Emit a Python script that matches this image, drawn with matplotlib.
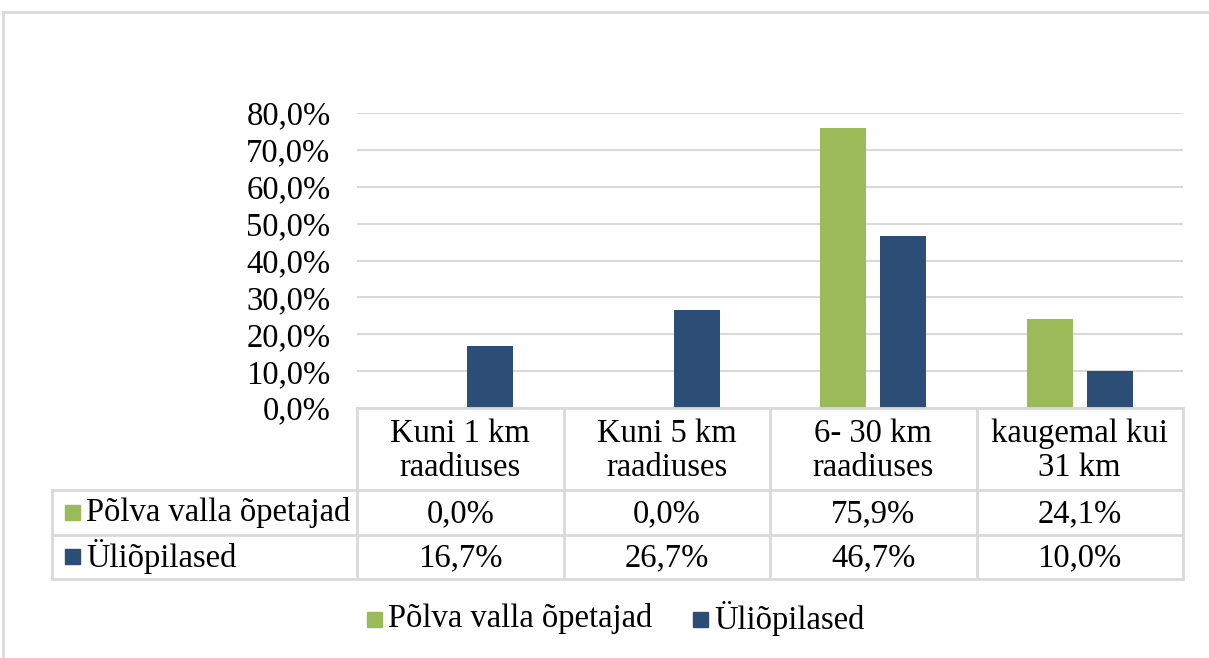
import matplotlib
matplotlib.use("Agg")
import matplotlib.pyplot as plt
from matplotlib.transforms import blended_transform_factory
from matplotlib.patches import Rectangle

categories = ["Kuni 1 km\nraadiuses", "Kuni 5 km\nraadiuses", "6- 30 km\nraadiuses", "kaugemal kui\n31 km"]
series_names = ["Põlva valla õpetajad", "Üliõpilased"]
teachers = [0.0, 0.0, 75.9, 24.1]
students = [16.7, 26.7, 46.7, 10.0]
yticks = [0, 10, 20, 30, 40, 50, 60, 70, 80]

GREEN = "#9bbb59"
BLUE = "#2c4d75"
GRID = "#d9d9d9"
FONT = "Liberation Serif"
FS = 23.5

W, H = 1209, 658
fig = plt.figure(figsize=(W / 100, H / 100), dpi=100)
plt.rcParams['font.family'] = [FONT, 'DejaVu Serif']

def fx(px):
    return px / W

def fy(py):
    return 1 - py / H

# chart border (top & left visible)
fig.add_artist(plt.Line2D([fx(3), fx(1209)], [fy(12), fy(12)], color=GRID, lw=2, transform=fig.transFigure))
fig.add_artist(plt.Line2D([fx(3), fx(3)], [fy(12), fy(658)], color=GRID, lw=2, transform=fig.transFigure))

x0, x1 = 357, 1183
y_top, y_bot = 113, 408
ax = fig.add_axes([fx(x0), fy(y_bot), fx(x1) - fx(x0), fy(y_top) - fy(y_bot)])
ax.set_xlim(-0.5, len(categories) - 0.5)
ax.set_ylim(0, 80)

xs = list(range(len(categories)))
bw = 0.223
off = 0.145
ax.bar([x - off for x in xs], teachers, width=bw, color=GREEN, zorder=3)
ax.bar([x + off for x in xs], students, width=bw, color=BLUE, zorder=3)

ax.set_yticks(yticks)
ax.set_yticklabels([f"{v:.1f}%".replace(".", ",") for v in yticks], fontsize=FS, fontfamily=FONT)
ax.tick_params(axis='y', length=0, pad=19)
ax.set_xticks([])
for s in ax.spines.values():
    s.set_visible(False)
ax.yaxis.grid(True, color=GRID, lw=1.5, zorder=0)
ax.set_axisbelow(True)

# data table
col_edges = [357, 563.5, 770, 976.5, 1183]
row_y = [408, 490, 535, 579]
lab_x = 52
lc = dict(color=GRID, lw=2, transform=fig.transFigure, solid_capstyle='projecting')
fig.add_artist(plt.Line2D([fx(x0), fx(x1)], [fy(408), fy(408)], **lc))
for ry in row_y[1:]:
    fig.add_artist(plt.Line2D([fx(lab_x), fx(x1)], [fy(ry), fy(ry)], **lc))
for cx in col_edges:
    fig.add_artist(plt.Line2D([fx(cx), fx(cx)], [fy(408), fy(579)], **lc))
fig.add_artist(plt.Line2D([fx(lab_x), fx(lab_x)], [fy(490), fy(579)], **lc))

tr = blended_transform_factory(ax.transData, fig.transFigure)
for i, c in enumerate(categories):
    ax.text(i, fy(451), c, transform=tr, ha='center', va='center', fontsize=FS,
            fontfamily=FONT, linespacing=1.17, clip_on=False)
    ax.text(i, fy(514), f"{teachers[i]:.1f}%".replace(".", ","), transform=tr, ha='center',
            va='center', fontsize=FS, fontfamily=FONT, clip_on=False)
    ax.text(i, fy(558), f"{students[i]:.1f}%".replace(".", ","), transform=tr, ha='center',
            va='center', fontsize=FS, fontfamily=FONT, clip_on=False)

for name, col, cy in [(series_names[0], GREEN, 513), (series_names[1], BLUE, 557)]:
    fig.add_artist(Rectangle((fx(65), fy(cy + 7)), fx(15), fy(0) - fy(15), color=col,
                             transform=fig.transFigure))
    fig.text(fx(86), fy(cy), name, ha='left', va='center', fontsize=FS, fontfamily=FONT)

# legend
for name, col, sx in [(series_names[0], GREEN, 367), (series_names[1], BLUE, 693)]:
    fig.add_artist(Rectangle((fx(sx), fy(627)), fx(15), fy(0) - fy(15), color=col,
                             transform=fig.transFigure))
    fig.text(fx(sx + 21), fy(619), name, ha='left', va='center', fontsize=FS, fontfamily=FONT)

fig.savefig("out.png", dpi=100, facecolor="white")
